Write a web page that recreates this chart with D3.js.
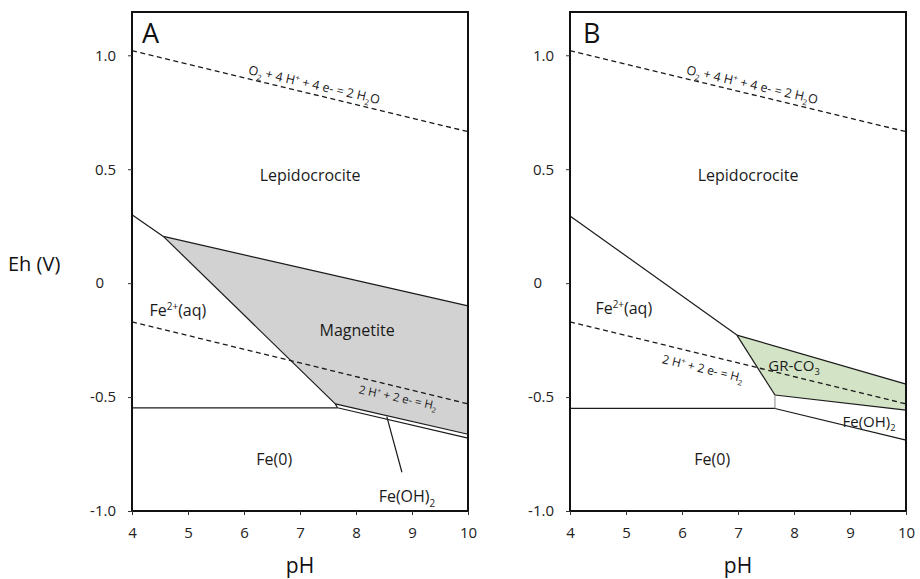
<!DOCTYPE html>
<html>
<head>
<meta charset="utf-8">
<script src="https://cdn.jsdelivr.net/npm/d3@7/dist/d3.min.js"></script>
<style>
  html, body { margin: 0; padding: 0; background: #fff; }
  svg { display: block; font-family: "Open Sans", "Noto Sans", sans-serif; }
</style>
</head>
<body>
<svg id="chart" width="920" height="579"></svg>
<script>
// ---- axis ticks ----
const pHTicks = [4, 5, 6, 7, 8, 9, 10];
const ehTicks = [-1.0, -0.5, 0, 0.5, 1.0];
const ehTickLabels = ["-1.0", "-0.5", "0", "0.5", "1.0"];

// ---- water stability lines (pH, Eh) ----
const waterO2 = [[4, 1.02], [10, 0.665]];
const waterH2 = [[4, -0.17], [10, -0.53]];

// ---- panel A: magnetite system ----
const aFe2Lepido = [[4, 0.30], [4.56, 0.205]];
const aMagnetite = [[4.56, 0.205], [10, -0.10], [10, -0.663], [7.63, -0.53]];
const aFeOH2 = [[7.63, -0.53], [10, -0.663], [10, -0.68], [7.67, -0.547]];
const aFe0Edge = [[4, -0.547], [7.67, -0.547]];
const aFeOH2Leader = [[8.55, -0.586], [8.82, -0.83]];

// ---- panel B: green rust system ----
const bFe2Lepido = [[4, 0.295], [6.98, -0.228]];
const bGrCO3 = [[6.98, -0.228], [10, -0.443], [10, -0.557], [7.66, -0.491]];
const bFeOH2 = [[7.66, -0.491], [10, -0.557], [10, -0.689], [7.66, -0.55]];
const bFe0Edge = [[4, -0.55], [7.66, -0.55]];

// ---- field labels: text segments, position (pH, Eh) ----
const sub = (t) => ({ t, sub: true });
const sup = (t) => ({ t, sup: true });
const labO2 = [{ t: "O" }, sub("2"), { t: " + 4 H" }, sup("+"), { t: " + 4 e- = 2 H" }, sub("2"), { t: "O" }];
const labH2 = [{ t: "2 H" }, sup("+"), { t: " + 2 e- = H" }, sub("2")];
const labFe2 = [{ t: "Fe" }, sup("2+"), { t: "(aq)" }];
const labFeOH2 = [{ t: "Fe(OH)" }, sub("2")];
const labGr = [{ t: "GR-CO" }, sub("3")];

const panels = [
  {
    id: "A", range: [132, 468], letterAt: [4.18, 1.053],
    fills: [{ pts: aMagnetite, color: "#d2d2d2" }, { pts: aFeOH2, color: "#ffffff" }],
    lines: [aFe2Lepido, aFe0Edge, aFeOH2Leader,
            [aMagnetite[0], aMagnetite[1]], [aMagnetite[0], aMagnetite[3]],
            [aFeOH2[0], aFeOH2[1]], [aFeOH2[3], aFeOH2[2]], [aFeOH2[0], aFeOH2[3]]],
    labels: [
      { seg: labO2, at: [7.22, 0.835], size: 12.5, rotate: 13, dy: -4 },
      { seg: [{ t: "Lepidocrocite" }], at: [7.18, 0.447], size: 16 },
      { seg: labFe2, at: [4.82, -0.145], size: 16 },
      { seg: [{ t: "Magnetite" }], at: [8.02, -0.232], size: 16 },
      { seg: labH2, at: [8.79, -0.455], size: 11.5, rotate: 12, dy: 15 },
      { seg: [{ t: "Fe(0)" }], at: [6.54, -0.798], size: 16 },
      { seg: labFeOH2, at: [8.91, -0.96], size: 16 }
    ],
    yTitle: true
  },
  {
    id: "B", range: [570, 906], letterAt: [4.23, 1.053],
    fills: [{ pts: bGrCO3, color: "#d3e3c6" }, { pts: bFeOH2, color: "#ffffff" }],
    lines: [bFe2Lepido, bFe0Edge,
            [bGrCO3[0], bGrCO3[1]], [bGrCO3[0], bGrCO3[3]], [bGrCO3[3], bGrCO3[2]],
            [bFeOH2[3], bFeOH2[2]]],
    thinLines: [[bFeOH2[0], bFeOH2[3]]],
    labels: [
      { seg: labO2, at: [7.22, 0.835], size: 12.5, rotate: 13, dy: -4 },
      { seg: [{ t: "Lepidocrocite" }], at: [7.18, 0.447], size: 16 },
      { seg: labFe2, at: [4.96, -0.136], size: 16 },
      { seg: labGr, at: [8.0, -0.385], size: 15 },
      { seg: labH2, at: [6.43, -0.316], size: 12, rotate: 13.5, dy: 18 },
      { seg: [{ t: "Fe(0)" }], at: [6.54, -0.798], size: 16 },
      { seg: labFeOH2, at: [9.34, -0.63], size: 15 }
    ],
    yTitle: false
  }
];

const svg = d3.select("#chart");
const y = d3.scaleLinear().domain([-1.0, 1.19]).range([511, 12]);
const line = (x) => d3.line().x(d => x(d[0])).y(d => y(d[1]));

function writeSegments(textSel, segs, size) {
  let shift = 0;
  segs.forEach(s => {
    const target = s.sub ? 0.3 * size : s.sup ? -0.38 * size : 0;
    const ts = textSel.append("tspan").text(s.t).attr("dy", target - shift);
    if (s.sub || s.sup) ts.attr("font-size", size * 0.62);
    shift = target;
  });
}

panels.forEach(p => {
  const x = d3.scaleLinear().domain([4, 10]).range(p.range);
  const g = svg.append("g");
  const ln = line(x);

  // filled stability fields
  p.fills.forEach(f => {
    g.append("path").attr("d", ln(f.pts) + "Z").attr("fill", f.color).attr("stroke", "none");
  });

  // water lines
  [waterO2, waterH2].forEach(w => {
    g.append("path").attr("d", ln(w)).attr("fill", "none")
      .attr("stroke", "#1a1a1a").attr("stroke-width", 1.3).attr("stroke-dasharray", "5,3.5");
  });

  // field boundaries
  p.lines.forEach(l => {
    g.append("path").attr("d", ln(l)).attr("fill", "none")
      .attr("stroke", "#1a1a1a").attr("stroke-width", 1.2);
  });
  (p.thinLines || []).forEach(l => {
    g.append("path").attr("d", ln(l)).attr("fill", "none")
      .attr("stroke", "#888").attr("stroke-width", 1);
  });

  // frame
  g.append("rect")
    .attr("x", x(4)).attr("y", y(1.19))
    .attr("width", x(10) - x(4)).attr("height", y(-1.0) - y(1.19))
    .attr("fill", "none").attr("stroke", "#111").attr("stroke-width", 2);

  // axes
  const xAxis = d3.axisBottom(x).tickValues(pHTicks).tickSize(4).tickPadding(12)
    .tickFormat(d3.format("d"));
  const gx = g.append("g").attr("transform", `translate(0,${y(-1.0)})`).call(xAxis);
  gx.select(".domain").remove();
  gx.selectAll("line").attr("stroke", "#333");
  gx.selectAll("text").attr("font-size", 15).attr("fill", "#222")
    .attr("font-family", "'Open Sans', sans-serif");

  const yAxis = d3.axisLeft(y).tickValues(ehTicks).tickSize(4).tickPadding(12)
    .tickFormat((d, i) => ehTickLabels[i]);
  const gy = g.append("g").attr("transform", `translate(${x(4)},0)`).call(yAxis);
  gy.select(".domain").remove();
  gy.selectAll("line").attr("stroke", "#333");
  gy.selectAll("text").attr("font-size", 15).attr("fill", "#222")
    .attr("font-family", "'Open Sans', sans-serif");
  // the integer label sits under the units digit of the decimal labels
  gy.selectAll(".tick").filter(d => d === 0).select("text").attr("dx", -12);

  // panel letter
  g.append("text").attr("x", x(p.letterAt[0])).attr("y", y(p.letterAt[1]))
    .attr("font-size", 27).attr("fill", "#111").text(p.id);

  // field labels
  p.labels.forEach(l => {
    const px = x(l.at[0]), py = y(l.at[1]);
    const t = g.append("text")
      .attr("transform", `translate(${px},${py}) rotate(${l.rotate || 0}) translate(0,${l.dy || 0})`)
      .attr("text-anchor", "middle").attr("font-size", l.size).attr("fill", "#1a1a1a");
    writeSegments(t, l.seg, l.size);
  });

  // axis titles
  g.append("text").attr("x", (x(4) + x(10)) / 2).attr("y", 573)
    .attr("text-anchor", "middle").attr("font-size", 21).attr("fill", "#111").text("pH");
  if (p.yTitle) {
    g.append("text").attr("x", 8).attr("y", 271)
      .attr("font-size", 20).attr("fill", "#111").text("Eh (V)");
  }
});
</script>
</body>
</html>
